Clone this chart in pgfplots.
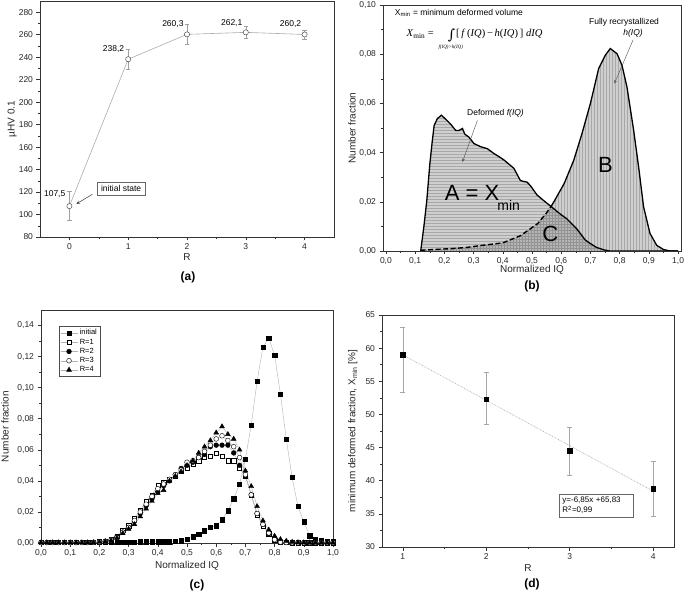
\documentclass[border=0pt]{standalone}
\usepackage{fontspec}
\setmainfont{Liberation Sans}
\newfontfamily\serifrm{Liberation Serif}
\newfontfamily\intfont{DejaVu Serif}
\usepackage{pgfplots}
\usepackage{pgfplotstable}
\pgfplotsset{compat=1.18}
\usetikzlibrary{patterns}

\pgfplotstableread{
x y e
0 107.5 13
1 238.2 8.5
2 260.3 8.9
3 262.1 5
4 260.2 4
}\adata

\pgfplotstableread{
x y
0.119 0
0.130 0.010
0.140 0.0206
0.150 0.035
0.158 0.044
0.165 0.051
0.176 0.0538
0.190 0.0552
0.205 0.0535
0.222 0.0515
0.239 0.0490
0.250 0.0490
0.262 0.0498
0.270 0.0475
0.284 0.0463
0.301 0.0437
0.324 0.0424
0.347 0.0416
0.370 0.0396
0.385 0.0385
0.404 0.0370
0.438 0.0336
0.460 0.0287
0.470 0.0283
0.483 0.0280
0.495 0.0265
0.517 0.0228
0.540 0.0205
0.565 0.0181
0.597 0.0150
0.620 0.0130
0.654 0.0089
0.682 0.0045
0.700 0.0030
0.720 0.0015
0.745 0.0005
0.765 0
1.0 0
}\fdata

\pgfplotstableread{
x y
0.119 0.0003
0.18 0.0007
0.23 0.0010
0.28 0.0015
0.33 0.0023
0.40 0.0033
0.46 0.0062
0.50 0.0095
0.52 0.0112
0.55 0.0155
0.565 0.0181
0.575 0.0200
0.61 0.0274
0.643 0.0369
0.671 0.0477
0.700 0.0600
0.728 0.0741
0.751 0.0796
0.768 0.0823
0.791 0.0802
0.808 0.0755
0.825 0.0667
0.848 0.0490
0.865 0.0341
0.882 0.0179
0.904 0.0071
0.927 0.0023
0.950 0.0006
0.973 0
1.0 0
}\hdata

\pgfplotstableread{
x y
0.119 0.0003
0.18 0.0007
0.23 0.0010
0.28 0.0015
0.33 0.0023
0.40 0.0033
0.46 0.0062
0.50 0.0095
0.52 0.0112
0.55 0.0155
0.565 0.0181
0.597 0.0150
0.620 0.0130
0.654 0.0089
0.682 0.0045
0.700 0.0030
0.720 0.0015
0.745 0.0005
0.765 0
}\cdata

\pgfplotstableread{
x init r1 r2 r3 r4
0.00 0.0005 0.0003 0.0003 0.0003 0.0003
0.02 0.0005 0.0003 0.0003 0.0003 0.0003
0.04 0.0005 0.0003 0.0003 0.0003 0.0003
0.06 0.0005 0.0003 0.0003 0.0003 0.0003
0.08 0.0005 0.0003 0.0003 0.0003 0.0003
0.10 0.0005 0.0003 0.0003 0.0003 0.0003
0.12 0.0005 0.0003 0.0003 0.0003 0.0003
0.14 0.0005 0.0003 0.0003 0.0003 0.0003
0.16 0.0005 0.0003 0.0003 0.0003 0.0003
0.18 0.0005 0.0004 0.0004 0.0004 0.0004
0.20 0.0005 0.0008 0.0007 0.0007 0.0006
0.22 0.0006 0.0012 0.0011 0.0011 0.0010
0.24 0.0006 0.0022 0.0018 0.0020 0.0016
0.26 0.0006 0.0045 0.0040 0.0035 0.0032
0.28 0.0007 0.0080 0.0070 0.0070 0.0062
0.30 0.0007 0.0112 0.0100 0.0100 0.0090
0.32 0.0007 0.0160 0.0140 0.0145 0.0120
0.34 0.0008 0.0210 0.0190 0.0200 0.0170
0.36 0.0008 0.0270 0.0240 0.0250 0.0220
0.38 0.0008 0.0310 0.0285 0.0300 0.0270
0.40 0.0008 0.0370 0.0330 0.0350 0.0320
0.42 0.0009 0.0390 0.0370 0.0380 0.0340
0.44 0.0009 0.0410 0.0400 0.0410 0.0400
0.46 0.0010 0.0430 0.0440 0.0440 0.0430
0.48 0.0015 0.0460 0.0480 0.0470 0.0460
0.50 0.0026 0.0480 0.0500 0.0520 0.0500
0.52 0.0041 0.0510 0.0520 0.0530 0.0530
0.54 0.0058 0.0530 0.0550 0.0550 0.0580
0.56 0.0079 0.0550 0.0570 0.0590 0.0620
0.58 0.0101 0.0560 0.0620 0.0630 0.0660
0.60 0.0111 0.0580 0.0630 0.0670 0.0710
0.62 0.0150 0.0560 0.0630 0.0690 0.0750
0.64 0.0208 0.0530 0.0630 0.0660 0.0700
0.66 0.0285 0.0530 0.0580 0.0620 0.0670
0.68 0.0378 0.0480 0.0500 0.0550 0.0600
0.70 0.0540 0.0430 0.0430 0.0440 0.0465
0.72 0.0760 0.0310 0.0310 0.0310 0.0365
0.74 0.1040 0.0180 0.0190 0.0190 0.0236
0.76 0.1260 0.0110 0.0120 0.0120 0.0144
0.78 0.1320 0.0060 0.0060 0.0065 0.0085
0.80 0.1210 0.0020 0.0030 0.0022 0.0045
0.82 0.0958 0.0006 0.0010 0.0006 0.0024
0.84 0.0669 0.0003 0.0004 0.0003 0.0013
0.86 0.0422 0.0002 0.0002 0.0002 0.0007
0.88 0.0236 0.0002 0.0002 0.0002 0.0004
0.90 0.0137 0.0002 0.0002 0.0002 0.0003
0.92 0.0047 0.0002 0.0002 0.0002 0.0002
0.94 0.0021 0.0002 0.0002 0.0002 0.0002
0.96 0.0015 0.0002 0.0002 0.0002 0.0002
0.98 0.0010 0.0002 0.0002 0.0002 0.0002
1.00 0.0008 0.0002 0.0002 0.0002 0.0002
}\cdist

\pgfplotstableread{
x y ep em
1 59.0 4.2 5.6
2 52.3 4.0 3.85
3 44.5 3.5 3.6
4 38.8 4.2 4.15
}\ddata

\pgfplotsset{
  panel/.style={
    scale only axis,
    axis line style={black!80, line width=0.6pt},
    tick pos=left,
    tick align=outside,
    major tick length=3.5pt,
    minor tick length=2pt,
    every tick/.style={black!80, line width=0.5pt},
    ticklabel style={font=\fontsize{8.5}{10}\selectfont, black!85},
    label style={font=\fontsize{10}{12}\selectfont, black!85},
    /pgf/number format/assume math mode=true,
    /pgf/number format/use comma,
  }
}

\begin{document}
\begin{tikzpicture}[x=1pt,y=1pt]
\useasboundingbox (0,0) rectangle (685,-593);

% ---------------- (a)
\begin{axis}[panel, at={(40pt,-1pt)}, anchor=north west, width=294pt, height=236pt,
  xmin=-0.5, xmax=4.5, ymin=80, ymax=290,
  xtick={0,1,2,3,4}, ytick={80,100,120,140,160,180,200,220,240,260,280},
  minor x tick num=1, minor y tick num=1,
  xlabel={R}, ylabel={µHV 0.1},
  xlabel style={at={(axis description cs:0.5,-0.085)}, anchor=center},
  ylabel style={at={(axis description cs:-0.095,0.5)}, anchor=center},
  /pgf/number format/.cd, fixed]
\addplot[gray!65, line width=0.6pt, mark=*, mark size=2.6pt,
  mark options={draw=black!70, fill=white, solid, line width=0.5pt},
  error bars/.cd, y dir=both, y explicit,
  error bar style={gray!75, line width=0.5pt},
  error mark options={rotate=90, mark size=2.2pt, gray!75, line width=0.5pt}]
  table[x=x, y=y, y error=e] {\adata};
\node[font=\fontsize{8.5}{10}\selectfont] at (axis cs:-0.25,118.5) {107,5};
\node[font=\fontsize{8.5}{10}\selectfont] at (axis cs:0.75,247.5) {238,2};
\node[font=\fontsize{8.5}{10}\selectfont] at (axis cs:1.76,269.5) {260,3};
\node[font=\fontsize{8.5}{10}\selectfont] at (axis cs:2.76,270.5) {262,1};
\node[font=\fontsize{8.5}{10}\selectfont] at (axis cs:3.76,269.5) {260,2};
\node[draw=black!60, fill=white, inner xsep=4pt, inner ysep=3pt, font=\fontsize{8.5}{10}\selectfont] at (axis cs:0.88,123) {initial state};
\draw[-stealth, black!80, line width=0.5pt] (axis cs:0.39,118) -- (axis cs:0.12,109.5);
\end{axis}
\node[font=\bfseries\fontsize{12}{14}\selectfont] at (188pt,-277pt) {(a)};

% ---------------- (b)
\begin{axis}[panel, at={(383pt,-5pt)}, anchor=north west, width=298pt, height=246pt,
  xmin=-0.01, xmax=1.01, ymin=0, ymax=0.1,
  xtick={0,0.1,0.2,0.3,0.4,0.5,0.6,0.7,0.8,0.9,1.0},
  ytick={0,0.02,0.04,0.06,0.08,0.10},
  minor x tick num=1, minor y tick num=1,
  xticklabel style={/pgf/number format/.cd, fixed, fixed zerofill, precision=1},
  yticklabel style={/pgf/number format/.cd, fixed, fixed zerofill, precision=2},
  xlabel={Normalized IQ}, ylabel={Number fraction},
  xlabel style={at={(axis description cs:0.5,-0.077)}, anchor=center},
  ylabel style={at={(axis description cs:-0.104,0.5)}, anchor=center}]
\addplot[draw=none, fill=gray!38] table {\fdata} \closedcycle;
\addplot[draw=none, pattern=horizontal lines, pattern color=gray!68] table {\fdata} \closedcycle;
\addplot[draw=none, fill=gray!38] table {\hdata} \closedcycle;
\addplot[draw=none, pattern=vertical lines, pattern color=gray!68] table {\hdata} \closedcycle;
\addplot[draw=none, fill=gray!58] table {\cdata} \closedcycle;
\addplot[draw=none, pattern=grid, pattern color=gray!85] table {\cdata} \closedcycle;
\addplot[black, line width=1.3pt] table {\fdata};
\addplot[black, line width=1.4pt, dash pattern=on 5pt off 2.5pt, restrict x to domain=0:0.566] table {\hdata};
\addplot[black, line width=1.3pt, restrict x to domain=0.564:1.01] table {\hdata};
\node[font=\fontsize{22}{24}\selectfont, anchor=base] at (axis cs:0.295,0.0205) {A = X};
\node[font=\fontsize{14}{16}\selectfont, anchor=base] at (axis cs:0.42,0.0165) {min};
\node[font=\fontsize{22}{24}\selectfont] at (axis cs:0.751,0.0348) {B};
\node[font=\fontsize{22}{24}\selectfont] at (axis cs:0.563,0.0070) {C};
\node[font=\fontsize{8.5}{10}\selectfont] at (axis cs:0.375,0.0561) {Deformed \textit{f(IQ)}};
\draw[-stealth, black!70, line width=0.4pt] (axis cs:0.313,0.0531) -- (axis cs:0.262,0.0362);
\node[font=\fontsize{8.5}{10}\selectfont] at (axis cs:0.815,0.0930) {Fully recrystallized};
\node[font=\fontsize{8.5}{10}\selectfont] at (axis cs:0.846,0.0885) {\textit{h(IQ)}};
\draw[-stealth, black!70, line width=0.4pt] (axis cs:0.846,0.0858) -- (axis cs:0.782,0.0681);
\node[anchor=base west, font=\fontsize{8.5}{10}\selectfont, inner sep=0pt] at (axis cs:0.03,0.0958) {X\textsubscript{min} = minimum deformed volume};
\node[anchor=base west, font=\serifrm\fontsize{10.5}{11}\selectfont, inner sep=0pt] at (axis cs:0.07,0.0870)
  {\textit{X}\textsubscript{min} =\hspace{14pt}\raisebox{-2.5pt}{\intfont\fontsize{14}{14}\selectfont ∫}\hspace{1pt}[\,\textit{f}\,(\textit{IQ})\,−\,\textit{h}(\textit{IQ})\,]\;\textit{dIQ}};
\node[font=\serifrm\itshape\fontsize{5}{6}\selectfont, inner sep=0pt] at (axis cs:0.222,0.0829) {f(IQ)>h(IQ)};
\end{axis}
\node[font=\bfseries\fontsize{12}{14}\selectfont] at (532pt,-286pt) {(b)};

% ---------------- (c)
\begin{axis}[panel, at={(41pt,-310pt)}, anchor=north west, width=292pt, height=233pt,
  xmin=0, xmax=1, ymin=0, ymax=0.15, clip=false,
  xtick={0,0.1,0.2,0.3,0.4,0.5,0.6,0.7,0.8,0.9,1.0},
  ytick={0,0.02,0.04,0.06,0.08,0.10,0.12,0.14},
  minor x tick num=1, minor y tick num=1,
  xticklabel style={/pgf/number format/.cd, fixed, fixed zerofill, precision=1},
  yticklabel style={/pgf/number format/.cd, fixed, fixed zerofill, precision=2},
  xlabel={Normalized IQ}, ylabel={Number fraction},
  xlabel style={at={(axis description cs:0.5,-0.10)}, anchor=center},
  ylabel style={at={(axis description cs:-0.123,0.5)}, anchor=center},
  legend style={at={(0.062,0.93)}, anchor=north west, draw=black!70, line width=0.4pt,
    font=\fontsize{7.5}{8.5}\selectfont, inner sep=1pt, row sep=-1.5pt},
  legend cell align=left]
\addplot[gray!60, line width=0.4pt, mark=square*, mark size=2.1pt, mark options={black, solid}] table[x=x, y=init] {\cdist};
\addplot[gray!60, line width=0.4pt, mark=square*, mark size=2.1pt, mark options={draw=black, fill=white, solid, line width=0.4pt}] table[x=x, y=r1] {\cdist};
\addplot[gray!60, line width=0.4pt, mark=*, mark size=2.4pt, mark options={black, solid}] table[x=x, y=r2] {\cdist};
\addplot[gray!60, line width=0.4pt, mark=*, mark size=2.4pt, mark options={draw=black, fill=white, solid, line width=0.4pt}] table[x=x, y=r3] {\cdist};
\addplot[gray!60, line width=0.4pt, mark=triangle*, mark size=2.8pt, mark options={black, solid}] table[x=x, y=r4] {\cdist};
\legend{initial, R=1, R=2, R=3, R=4}
\end{axis}
\node[font=\bfseries\fontsize{12}{14}\selectfont] at (197pt,-585pt) {(c)};

% ---------------- (d)
\begin{axis}[panel, at={(382pt,-315pt)}, anchor=north west, width=292pt, height=232pt,
  xmin=0.75, xmax=4.25, ymin=30, ymax=65,
  xtick={1,2,3,4}, ytick={30,35,40,45,50,55,60,65},
  minor x tick num=1, minor y tick num=1,
  xlabel={R}, ylabel={minimum deformed fraction, X\textsubscript{min} [\%]},
  xlabel style={at={(axis description cs:0.5,-0.09)}, anchor=center},
  ylabel style={at={(axis description cs:-0.10,0.5)}, anchor=center},
  /pgf/number format/.cd, fixed]
\addplot[gray!65, densely dotted, line width=0.7pt] coordinates {(1,58.98) (4,38.43)};
\addplot[only marks, mark=square*, mark size=2.3pt, black,
  error bars/.cd, y dir=both, y explicit,
  error bar style={gray!70, line width=0.5pt},
  error mark options={rotate=90, mark size=2.5pt, gray!70, line width=0.5pt}]
  table[x=x, y=y, y error plus=ep, y error minus=em] {\ddata};
\node[draw=black!60, fill=white, align=left, anchor=center, inner sep=3pt,
  font=\fontsize{8}{10}\selectfont, text width=68pt] at (axis cs:3.32,36.25)
  {y=-6,85x +65,83\\R\textsuperscript{2}=0,99};
\end{axis}
\node[font=\bfseries\fontsize{12}{14}\selectfont] at (532pt,-584pt) {(d)};

\end{tikzpicture}
\end{document}
